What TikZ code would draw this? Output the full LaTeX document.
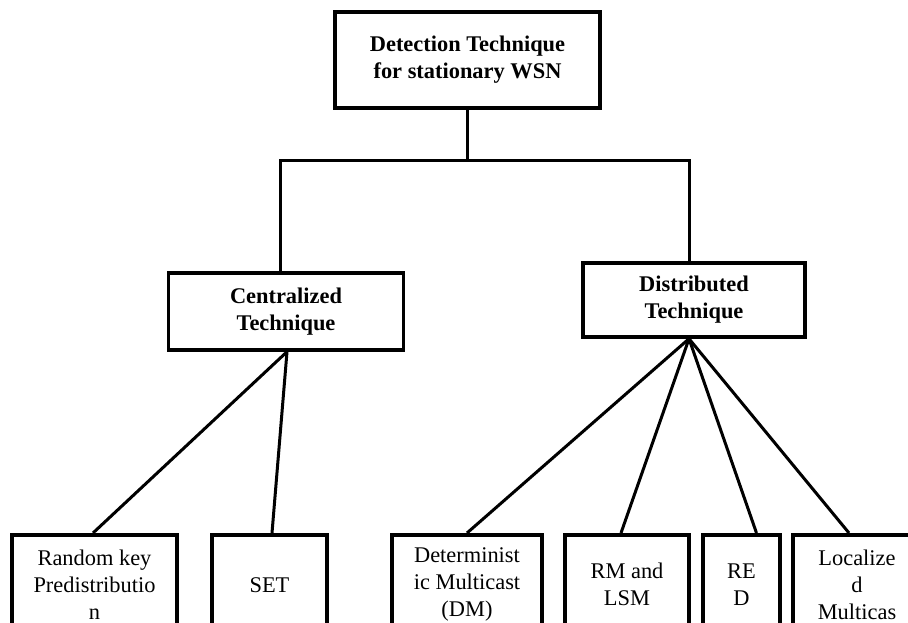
\documentclass[tikz,border=0pt]{standalone}
\usepackage{fontspec}
\setmainfont{Liberation Serif}
\begin{document}
\begin{tikzpicture}[x=1pt,y=-1pt,
  box/.style={draw, line width=3.5pt, align=center, inner sep=0pt},
  head/.style={box, font=\fontsize{22.4}{27}\selectfont\bfseries},
  leaf/.style={box, anchor=north, font=\fontsize{22.4}{27}\selectfont, minimum height=100pt},
  link/.style={line width=3pt}]
\useasboundingbox (0,0) rectangle (908,623);
\clip (0,0) rectangle (908,623);

% upper levels
\node[head, minimum width=265pt, minimum height=96pt] (root) at (467.5,60) {Detection Technique\\for stationary WSN};
\node[head, minimum width=235pt, minimum height=77pt] (cen) at (286,311.5) {Centralized\\Technique};
\node[head, minimum width=222pt, minimum height=74pt] (dis) at (694,300) {Distributed\\Technique};

% leaves
\node[leaf, minimum width=165pt] (rk) at (94.5,533) {Random key\\Predistributio\\n};
\node[leaf, minimum width=115pt] (set) at (269.5,533) {SET};
\node[leaf, minimum width=150pt] (dm) at (467,533) {Determinist\\ic Multicast\\(DM)};
\node[leaf, minimum width=124pt] (rm) at (627,533) {RM and\\LSM};
\node[leaf, minimum width=77pt] (red) at (741.5,533) {RE\\D};
\node[leaf, minimum width=128pt] (lm) at (857,533) {Localize\\d\\Multicas};

% bus from the root
\coordinate (bus) at (467.5,161);
\draw[link] (root.south) -- (bus);
\draw[link] (bus) -| ([xshift=-6pt]cen.north);
\draw[link] (bus) -| ([xshift=-5pt]dis.north);

% fan-out from the two groups
\coordinate (cj) at ([xshift=1pt]cen.south);
\coordinate (dj) at ([xshift=-5pt]dis.south);
\draw[link] (cj) -- ([xshift=-1.5pt]rk.north);
\draw[link] (cj) -- ([xshift=2.5pt]set.north);
\draw[link] (dj) -- (dm.north);
\draw[link] (dj) -- ([xshift=-6pt]rm.north);
\draw[link] (dj) -- ([xshift=15pt]red.north);
\draw[link] (dj) -- ([xshift=-8pt]lm.north);
\end{tikzpicture}
\end{document}
